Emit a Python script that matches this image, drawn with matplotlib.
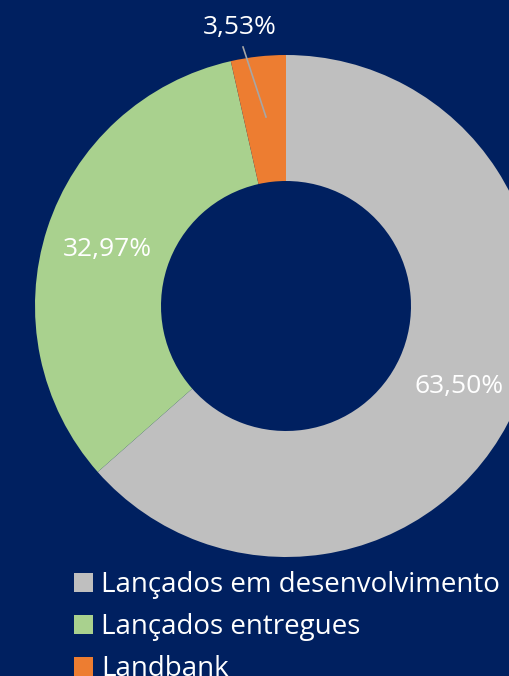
import matplotlib.pyplot as plt

# dados do gráfico
categorias = ["Lançados em desenvolvimento", "Lançados entregues", "Landbank"]
valores = [63.50, 32.97, 3.53]
rotulos = ["63,50%", "32,97%", "3,53%"]
cores = ["#BFBFBF", "#A9D18E", "#ED7D31"]
fundo = "#002060"

plt.rcParams['font.family'] = ['Open Sans', 'DejaVu Sans']

fig = plt.figure(figsize=(5.10, 6.76), dpi=100, facecolor=fundo)
ax = fig.add_axes([0, 0, 1, 1])
ax.set_facecolor(fundo)

centro = (286, 370)
raio = 251
fatias, _ = ax.pie(valores, colors=cores, startangle=90, counterclock=False,
                   center=centro, radius=raio, frame=True,
                   wedgeprops=dict(width=126, edgecolor='none'))
ax.set_xlim(0, 510)
ax.set_ylim(0, 676)
ax.set_aspect('equal')
ax.axis('off')

# rótulos de dados
ax.text(459, 290, rotulos[0], color='white', fontsize=19, ha='center', va='center')
ax.text(107, 427, rotulos[1], color='white', fontsize=19, ha='center', va='center')
ax.text(240, 649, rotulos[2], color='white', fontsize=19, ha='center', va='center')
ax.plot([243, 266], [629, 559], color='#A6A6A6', lw=1.2)

leg = ax.legend(fatias, categorias, loc='upper left', bbox_to_anchor=(74 / 510, 1 - 571 / 676),
                frameon=False, fontsize=20, labelcolor='white',
                handlelength=0.68, handleheight=0.68, handletextpad=0.29,
                labelspacing=0.51, borderpad=0, borderaxespad=0)

fig.savefig('out.png', dpi=100, facecolor=fundo)
